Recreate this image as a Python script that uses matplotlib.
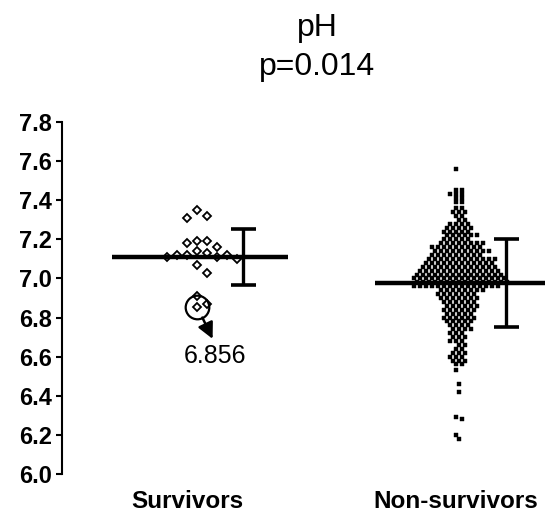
import numpy as np
import matplotlib
matplotlib.use('Agg')
import matplotlib.pyplot as plt

# data
groups = ['Survivors', 'Non-survivors']
survivors_ph = [7.35, 7.32, 7.31, 7.19, 7.18, 7.19, 7.16, 7.14, 7.12, 7.13,
                7.11, 7.12, 7.12, 7.11, 7.10, 7.07, 7.03, 6.91, 6.87, 6.856]
nonsurv_levels = [7.56, 7.45, 7.43, 7.41, 7.39, 7.36, 7.34, 7.32, 7.30,
                  7.28, 7.26, 7.24, 7.22, 7.20, 7.18, 7.16, 7.14, 7.12,
                  7.10, 7.08, 7.06, 7.04, 7.02, 7.00, 6.98, 6.96,
                  6.94, 6.92, 6.90, 6.88, 6.86, 6.84, 6.82, 6.80,
                  6.78, 6.76, 6.74, 6.72, 6.70, 6.68, 6.66,
                  6.64, 6.62, 6.60, 6.58, 6.56, 6.53, 6.46, 6.42,
                  6.29, 6.28, 6.20, 6.18]
nonsurv_counts = [1, 2, 3, 2, 2, 2, 3, 2, 2,
                  4, 5, 5, 6, 5, 8, 9, 10, 9,
                  12, 12, 13, 14, 15, 16, 16, 15,
                  8, 7, 7, 6, 6, 6, 5, 6,
                  5, 4, 4, 3, 3, 3, 2,
                  2, 3, 3, 3, 2, 1, 1, 1,
                  1, 1, 1, 1]
group_mean = [7.11, 6.975]
group_sd = [0.145, 0.225]
marked_value = 6.856
title_lines = ['pH', 'p=0.014']
y_ticks = [6.0, 6.2, 6.4, 6.6, 6.8, 7.0, 7.2, 7.4, 7.6, 7.8]

nonsurv_ph = np.repeat(nonsurv_levels, nonsurv_counts)

# pixel scale of the axes (px per data unit)
PX_X = 263.0
PX_Y = 195.5


def swarm(vals, center, step_px, dy_px, row=None):
    # greedy grid swarm: put each point at the free slot nearest the centre
    order = np.argsort(vals, kind='stable')[::-1]
    placed = []
    xs = np.zeros(len(vals))
    for i in order:
        y = vals[i] * PX_Y
        shift = 0.0
        if row is not None and int(round(vals[i] / row)) % 2:
            shift = 0.5 * step_px
        k = 0
        while True:
            slot = ((k + 1) // 2) * (1 if k % 2 else -1)
            x = slot * step_px + shift
            ok = True
            for (px, py) in placed:
                if abs(py - y) < dy_px and abs(px - x) < step_px * 0.9:
                    ok = False
                    break
            if ok:
                break
            k += 1
        placed.append((x, y))
        xs[i] = center + x / PX_X
    return xs


fig = plt.figure(figsize=(5.45, 5.14), dpi=100)
ax = fig.add_axes([62 / 545, 40 / 514, 506 / 545, 352 / 514])

sx = swarm(np.array(survivors_ph), 0.99, 10.0, 8.0)
ax.plot(sx, survivors_ph, 'D', ms=4.2, mfc='white', mec='black', mew=1.3,
        ls='none', zorder=3)
nx = swarm(nonsurv_ph, 1.975, 6.0, 3.5, row=0.02)
ax.plot(nx, nonsurv_ph, 's', ms=2.4, mfc='black', mec='black', mew=0.3,
        ls='none', zorder=3)

# mean lines and SD bars
for i, (m, s) in enumerate(zip(group_mean, group_sd)):
    xc = i + 1
    ax.hlines(m, xc - 0.335, xc + 0.335, color='black', lw=3.2, zorder=4)
    ax.errorbar(xc + 0.163, m, yerr=s, fmt='none', ecolor='black',
                elinewidth=2.4, capsize=9, capthick=2.6, zorder=4)

# marked survivor value
mi = survivors_ph.index(marked_value)
mx = sx[mi]
ax.plot(mx, marked_value, 'o', ms=17, mfc='none', mec='black', mew=1.6,
        zorder=5)
ax.annotate('', xy=(mx + 0.058, marked_value - 0.165),
            xytext=(mx + 0.019, marked_value - 0.056),
            arrowprops=dict(arrowstyle='-|>', color='black', lw=1.8,
                            mutation_scale=24, shrinkA=0, shrinkB=0))
ax.text(mx + 0.066, marked_value - 0.255, '%.3f' % marked_value,
        ha='center', va='center', fontsize=18, family='Liberation Sans')

ax.set_xlim(0.475, 2.4)
ax.set_ylim(6.0, 7.8)
ax.set_yticks(y_ticks)
ax.set_yticklabels(['%.1f' % t for t in y_ticks], fontsize=17,
                   fontweight='bold', family='Liberation Sans')
ax.set_xticks([])
ax.tick_params(axis='y', length=4, width=1.5, pad=3, direction='out')
for side in ['top', 'right', 'bottom']:
    ax.spines[side].set_visible(False)
ax.spines['left'].set_linewidth(1.5)
ax.patch.set_visible(False)

# group labels under the axis
lab_y = -28 / 352
ax.text(0.95, lab_y, groups[0], transform=ax.get_xaxis_transform(),
        ha='center', va='center', fontsize=17.5, fontweight='bold',
        family='Liberation Sans')
ax.text(1.66, lab_y, groups[1], transform=ax.get_xaxis_transform(),
        ha='left', va='center', fontsize=17.5, fontweight='bold',
        family='Liberation Sans')

fig.text(317 / 545, 1 - 28 / 514, title_lines[0], ha='center', va='center',
         fontsize=23, family='Liberation Sans')
fig.text(317 / 545, 1 - 67 / 514, title_lines[1], ha='center', va='center',
         fontsize=23, family='Liberation Sans')

fig.savefig('out.png', dpi=100)
